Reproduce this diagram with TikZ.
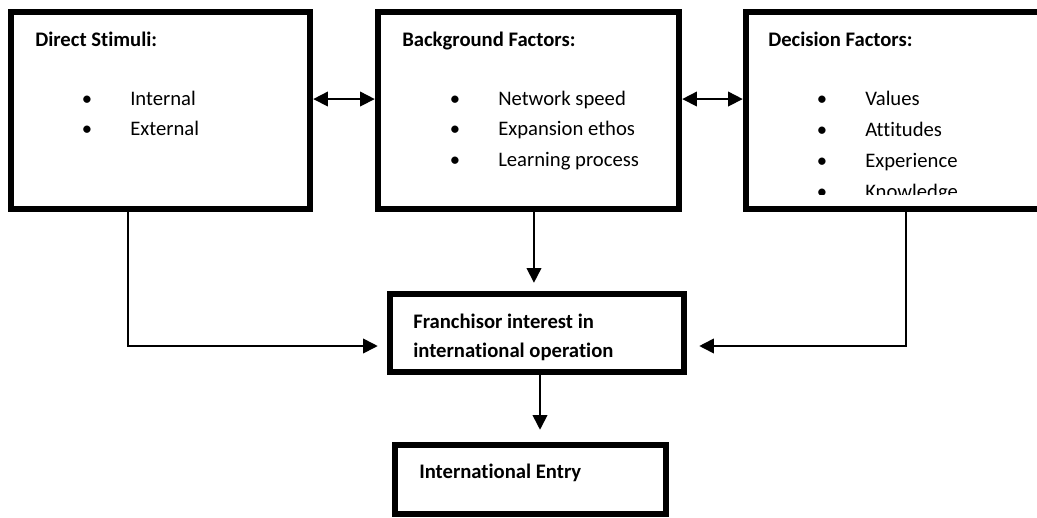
\documentclass[tikz,border=0pt]{standalone}
\usepackage{fontspec}
\setmainfont{Carlito}[Ligatures=NoCommon]
\usetikzlibrary{positioning, arrows.meta, calc}

\begin{document}
\begin{tikzpicture}[x=0.75pt, y=-0.75pt, font=\fontsize{15.5}{18}\selectfont, >={Triangle[length=11pt, width=11pt]},
  factorbox/.style={rectangle, draw, line width=4.9pt, minimum width=225.75pt, minimum height=147.75pt},
  boxtitle/.style={anchor=base west, inner sep=0pt, font=\fontsize{15.5}{18}\selectfont\bfseries},
  itemtext/.style={anchor=base west, inner sep=0pt},
  bul/.style={anchor=base, inner sep=0pt},
  link/.style={line width=1.25pt}]
  \useasboundingbox (0,0) rectangle (1037,517);

  \node[factorbox, minimum width=224.25pt] (ds) at (160.5,110.5) {};
  \node[factorbox] (bf) at (528.5,110.5) {};
  \node[factorbox] (df) at (896.5,110.5) {};
  \node[rectangle, draw, line width=4.9pt, minimum width=220.5pt, minimum height=58.5pt] (fr) at (537,333) {};
  \node[rectangle, draw, line width=4.9pt, minimum width=203.25pt, minimum height=51.75pt] (ie) at (530.5,479.5) {};

  \node[boxtitle] (ds-t) at (35,47) {Direct Stimuli:};
  \foreach \t [count=\i from 0] in {Internal, External} {
    \node[bul] (ds-b\i) at (87,105+30*\i) {\textbullet};
    \node[itemtext] (ds-i\i) at (130,105+30*\i) {\t};
  }

  \node[boxtitle] (bf-t) at (402,47) {Background Factors:};
  \foreach \t [count=\i from 0] in {Network speed, Expansion ethos, Learning process} {
    \node[bul] (bf-b\i) at (455,105+30.5*\i) {\textbullet};
    \node[itemtext] (bf-i\i) at (498,105+30.5*\i) {\t};
  }

  \begin{scope}
    \clip (746,0) rectangle (1037,194);
    \node[boxtitle] (df-t) at (768,47) {Decision Factors:};
    \foreach \t [count=\i from 0] in {Values, Attitudes, Experience, Knowledge} {
      \node[bul] (df-b\i) at (822,105+31*\i) {\textbullet};
      \node[itemtext] (df-i\i) at (865,105+31*\i) {\t};
    }
  \end{scope}

  \node[boxtitle] (fr-t1) at (413,328) {Franchisor interest in};
  \node[boxtitle] (fr-t2) at (413,357) {international operation};
  \node[boxtitle] (ie-t) at (419,478) {International Entry};

  \draw[<->, link] ([yshift=8.6pt]ds.east) -- ([yshift=8.6pt]bf.west);
  \draw[<->, link] ([yshift=8.6pt]bf.east) -- ([yshift=8.6pt]df.west);
  \draw[->, link, shorten >=6pt] ([xshift=4.1pt]bf.south) -- ([xshift=4.1pt]bf.south |- fr.north);
  \draw[->, link, shorten >=6.75pt] ([xshift=-24.4pt]ds.south) |- ([yshift=-9.75pt]fr.west);
  \draw[->, link, shorten >=9pt] ([xshift=7.1pt]df.south) |- ([yshift=-9.75pt]fr.east);
  \draw[->, link, shorten >=9pt] ([xshift=2.25pt]fr.south) -- ([xshift=2.25pt]fr.south |- ie.north);
\end{tikzpicture}
\end{document}
